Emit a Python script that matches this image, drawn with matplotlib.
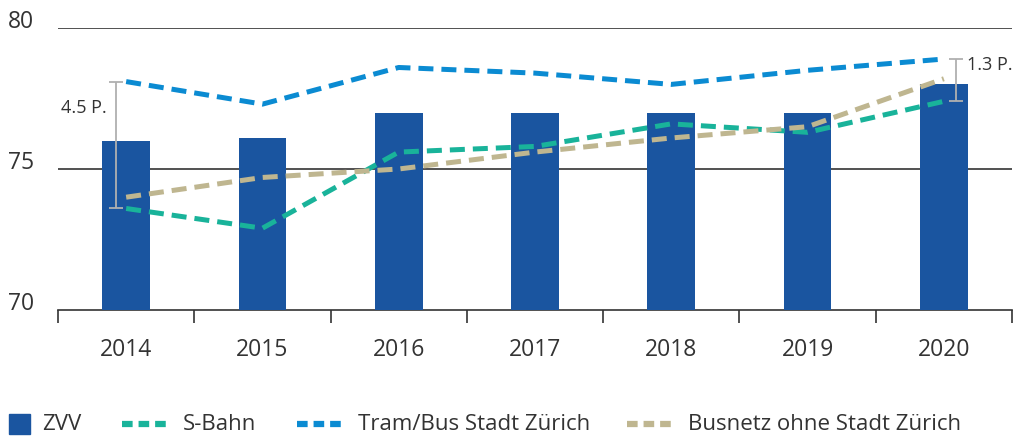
import numpy as np
import matplotlib.pyplot as plt
from matplotlib.lines import Line2D
from matplotlib.patches import Rectangle

# data
years = ['2014', '2015', '2016', '2017', '2018', '2019', '2020']
zvv = [76.0, 76.1, 77.0, 77.0, 77.0, 77.0, 78.0]
s_bahn = [73.6, 72.9, 75.6, 75.8, 76.6, 76.3, 77.4]
tram_bus = [78.1, 77.3, 78.6, 78.4, 78.0, 78.5, 78.9]
busnetz = [74.0, 74.7, 75.0, 75.6, 76.1, 76.5, 78.2]
spread_labels = ['4.5 P.', '1.3 P.']
names = ['ZVV', 'S-Bahn', 'Tram/Bus Stadt Zürich', 'Busnetz ohne Stadt Zürich']

c_bar = '#1a55a0'
c_sbahn = '#19b39a'
c_tram = '#0b8bd2'
c_bus = '#bfb690'
c_text = '#333333'

plt.rcParams['font.family'] = ['Open Sans', 'DejaVu Sans']

W, H = 1016, 437
fig = plt.figure(figsize=(W / 100, H / 100), dpi=100)
ax = fig.add_axes([58 / W, 1 - 310 / H, 954 / W, 282 / H])

x = np.arange(len(years))
ax.bar(x, zvv, width=0.35, color=c_bar, zorder=3)

dash = (3, 1.6)
lw = 3.6
ax.plot(x, s_bahn, color=c_sbahn, lw=lw, dashes=dash, zorder=4)
ax.plot(x, tram_bus, color=c_tram, lw=lw, dashes=dash, zorder=4)
ax.plot(x, busnetz, color=c_bus, lw=lw, dashes=dash, zorder=4)

# spread markers for first and last year
for i, off, lab, ha, tx in [(0, -0.075, spread_labels[0], 'right', -0.07),
                            (6, 0.09, spread_labels[1], 'left', 0.08)]:
    lo = min(s_bahn[i], tram_bus[i], busnetz[i])
    hi = max(s_bahn[i], tram_bus[i], busnetz[i])
    ax.errorbar(x[i] + off, (lo + hi) / 2, yerr=(hi - lo) / 2, color='#b0b0b0',
                lw=1.3, capsize=5, capthick=1.3, zorder=5)
    ty = 77.15 if i == 0 else hi - 0.2
    ax.text(x[i] + off + tx, ty, lab, ha=ha, va='center', fontsize=13,
            color=c_text)

ax.set_xlim(-0.5, 6.5)
ax.set_ylim(70, 80)
ax.set_yticks([70, 75, 80])
for yv in [75, 80]:
    ax.axhline(yv, color='#333333', lw=1.2, zorder=1)

ax.set_xticks(x)
ax.set_xticklabels(years, fontsize=16.5, color=c_text)
ax.set_xticks(np.arange(-0.5, 7, 1), minor=True)
ax.tick_params(axis='x', which='major', length=0, pad=20)
ax.tick_params(axis='x', which='minor', length=9, width=1.2, color='#333333')
ax.tick_params(axis='y', length=0, labelsize=16.5, labelcolor=c_text, pad=36)
for lbl in ax.get_yticklabels():
    lbl.set_horizontalalignment('left')
    lbl.set_verticalalignment('baseline')

for s in ['top', 'right', 'left']:
    ax.spines[s].set_visible(False)
ax.spines['bottom'].set_color('#333333')
ax.spines['bottom'].set_linewidth(1.2)

# legend drawn by hand in figure pixels
ly = 1 - 424 / H
fig.patches.append(Rectangle((9 / W, 1 - 434 / H), 21 / W, 20 / H,
                             color=c_bar, transform=fig.transFigure))
fig.text(42 / W, ly, names[0], fontsize=16, color=c_text, va='center')
leg_lines = [(122, 167, c_sbahn, 183), (297, 342, c_tram, 358),
             (627, 672, c_bus, 688)]
for (x0, x1, col, tx), nm in zip(leg_lines, names[1:]):
    fig.lines.append(Line2D([x0 / W, x1 / W], [ly, ly], color=col, lw=4.5,
                            dashes=(1.7, 0.95), transform=fig.transFigure))
    fig.text(tx / W, ly, nm, fontsize=16, color=c_text, va='center')

fig.savefig('out.png', dpi=100)
